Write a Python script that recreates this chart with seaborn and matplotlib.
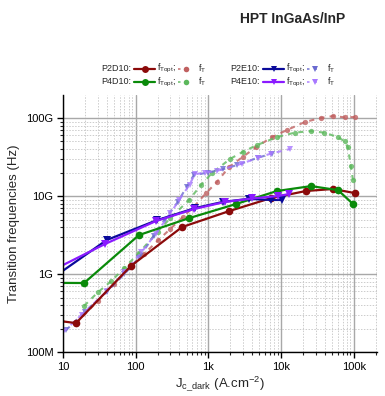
import numpy as np
import pandas as pd
import matplotlib
matplotlib.use("Agg")
import matplotlib.pyplot as plt
import matplotlib.ticker as mticker
from matplotlib.lines import Line2D
import seaborn as sns

# f_Topt curves (solid), x in A/cm2, y in GHz
p2d10_x = [9, 15.1, 86, 434, 1920, 7260, 22000, 51700, 104000]
p2d10_y = [0.25, 0.235, 1.27, 4.0, 6.4, 9.4, 11.6, 12.3, 10.9]
p4d10_x = [9, 19.5, 111, 541, 2400, 8800, 25800, 60700, 97500]
p4d10_y = [0.77, 0.767, 3.16, 5.2, 7.9, 11.6, 13.4, 11.9, 7.9]
p2e10_x = [9, 40, 196, 655, 1580, 3600, 7260, 10300]
p2e10_y = [1.03, 2.73, 4.9, 7.0, 8.4, 9.2, 8.9, 8.9]
p4e10_x = [9, 38, 190, 632, 1690, 4000, 9060, 12900]
p4e10_y = [1.24, 2.43, 4.78, 6.8, 8.4, 9.3, 10.0, 10.6]

# f_T curves (dashed)
p2d10_ft_x = [15, 30, 50, 86, 130, 203, 300, 448, 650, 927, 1300, 1920, 3000,
              4500, 7500, 12000, 21300, 35000, 51700, 75000, 104000]
p2d10_ft_y = [0.23, 0.45, 0.75, 1.25, 1.8, 2.7, 3.8, 5.4, 7.5, 10.9, 15, 23.5, 32,
              42, 57, 70, 89, 100, 106, 102, 103]
p4d10_ft_x = [19.5, 30, 46, 70, 111, 200, 300, 541, 800, 1120, 2000, 3000, 4660,
              8800, 15500, 25800, 38900, 60700, 75000, 83000, 91000, 97500]
p4d10_ft_y = [0.39, 0.58, 0.81, 1.2, 1.86, 3.5, 5.2, 8.9, 14, 19.7, 30, 37, 45,
              57, 65, 68, 65, 57, 50, 42, 24, 16]
p2e10_ft_x = [11, 20, 40, 70, 110, 178, 250, 380, 500, 632, 1000, 1580, 2500, 4800, 7500]
p2e10_ft_y = [0.19, 0.33, 0.59, 1.0, 1.6, 3.1, 5.0, 8.4, 13, 18.6, 20, 22, 25, 31, 35]
p4e10_ft_x = [10, 18, 40, 70, 120, 190, 300, 400, 550, 650, 900, 1300, 2900, 4800, 7260, 13200]
p4e10_ft_y = [0.18, 0.3, 0.6, 1.05, 1.9, 3.3, 6.0, 9.0, 14, 19, 20, 21, 26, 31, 35, 40]

sns.set_style("ticks")
plt.rcParams['font.family'] = ['Liberation Sans', 'DejaVu Sans']
plt.rcParams['mathtext.fontset'] = 'custom'
plt.rcParams['mathtext.rm'] = 'Liberation Sans'
plt.rcParams['mathtext.it'] = 'Liberation Sans'

fig = plt.figure(figsize=(3.85, 3.96), dpi=100)
ax = fig.add_axes([0.1636, 0.111, 0.815, 0.649])

series = [
    (p2d10_x, p2d10_y, p2d10_ft_x, p2d10_ft_y, "#8b0a0a", "#c06060", "o"),
    (p4d10_x, p4d10_y, p4d10_ft_x, p4d10_ft_y, "#0a8a0a", "#5cb85c", "o"),
    (p2e10_x, p2e10_y, p2e10_ft_x, p2e10_ft_y, "#0a0a9a", "#6a6ad0", "v"),
    (p4e10_x, p4e10_y, p4e10_ft_x, p4e10_ft_y, "#8a1aff", "#a878ff", "v"),
]

for x, y, fx, fy, c, cl, m in series:
    sns.lineplot(x=fx, y=np.array(fy) * 1e9, ax=ax, color=cl, linestyle=(0, (2.5, 2.5)),
                 linewidth=1.5, marker=m, markersize=3.8, markeredgewidth=0,
                 alpha=0.8, sort=False)

for x, y, fx, fy, c, cl, m in series:
    sns.lineplot(x=x, y=np.array(y) * 1e9, ax=ax, color=c, linewidth=1.6,
                 marker=m, markersize=5.5, markeredgewidth=0, sort=False)

ax.set_xscale('log')
ax.set_yscale('log')
ax.set_xlim(10, 2.07e5)
ax.set_ylim(1e8, 1.97e11)

ax.xaxis.set_major_locator(mticker.FixedLocator([10, 100, 1e3, 1e4, 1e5]))
ax.xaxis.set_major_formatter(mticker.FixedFormatter(['10', '100', '1k', '10k', '100k']))
ax.yaxis.set_major_locator(mticker.FixedLocator([1e8, 1e9, 1e10, 1e11]))
ax.yaxis.set_major_formatter(mticker.FixedFormatter(['100M', '1G', '10G', '100G']))
ax.xaxis.set_minor_locator(mticker.LogLocator(base=10, subs=np.arange(2, 10)))
ax.yaxis.set_minor_locator(mticker.LogLocator(base=10, subs=np.arange(2, 10)))
ax.xaxis.set_minor_formatter(mticker.NullFormatter())
ax.yaxis.set_minor_formatter(mticker.NullFormatter())

ax.grid(which='major', color='#a8a8a8', linewidth=1.0, linestyle='-')
ax.grid(which='minor', color='#cccccc', linewidth=0.7, linestyle=(0, (1.5, 1.5)))
ax.set_axisbelow(True)

sns.despine(ax=ax)
for s in ['left', 'bottom']:
    ax.spines[s].set_color('black')
    ax.spines[s].set_linewidth(1.0)
ax.tick_params(which='major', direction='out', length=4, width=1, labelsize=8, colors='black', pad=3)
ax.tick_params(which='minor', direction='out', length=2, width=0.8)

ax.set_ylabel('Transition frequencies (Hz)', fontsize=9.5, labelpad=4)
ax.set_xlabel(r'J$_{\mathregular{c\_dark}}$ (A.cm$^{\mathregular{-2}}$)', fontsize=9.5, labelpad=2)

fig.text(0.76, 0.952, 'HPT InGaAs/InP', fontsize=10, fontweight='bold', ha='center', va='center')

# custom legend in figure pixel coords
W, H = 385, 396
leg_rows = [
    [("P2D10:", "#8b0a0a", "#c06060", "o", 101), ("P2E10:", "#0a0a9a", "#6a6ad0", "v", 230)],
    [("P4D10:", "#0a8a0a", "#5cb85c", "o", 101), ("P4E10:", "#8a1aff", "#a878ff", "v", 230)],
]
for row, py in zip(leg_rows, [68.5, 82]):
    yf = 1 - py / H
    for lab, c, cl, m, px in row:
        fig.text(px / W, yf, lab, fontsize=6.5, va='center', ha='left')
        fig.add_artist(Line2D([(px + 33) / W, (px + 54) / W], [yf, yf], color=c,
                              linewidth=1.6))
        fig.add_artist(Line2D([(px + 43.5) / W], [yf], color=c, marker=m, markersize=5,
                              markeredgewidth=0, linestyle='none'))
        fig.text((px + 56) / W, yf, r'f$_{\mathregular{Topt}}$;', fontsize=6.5, va='center', ha='left')
        fig.add_artist(Line2D([(px + 77) / W, (px + 90) / W], [yf, yf], color=cl,
                              linewidth=1.2, linestyle=(0, (1.5, 3)), alpha=0.85))
        fig.add_artist(Line2D([(px + 85) / W], [yf], color=cl, marker=m, markersize=4,
                              markeredgewidth=0, linestyle='none'))
        fig.text((px + 97) / W, yf, r'f$_{\mathregular{T}}$', fontsize=6.5, va='center', ha='left')

fig.savefig('out.png', dpi=100)
